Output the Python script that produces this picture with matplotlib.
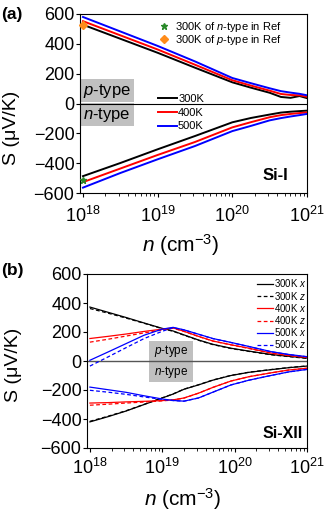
import matplotlib
matplotlib.use('Agg')
import matplotlib.pyplot as plt
from matplotlib.patches import Rectangle
import numpy as np

plt.rcParams['font.family'] = ['Liberation Sans', 'DejaVu Sans']
plt.rcParams['mathtext.fontset'] = 'custom'
plt.rcParams['mathtext.rm'] = 'Liberation Sans'
plt.rcParams['mathtext.it'] = 'Liberation Sans:italic'
plt.rcParams['mathtext.bf'] = 'Liberation Sans:bold'

# ---- panel (a): Si-I, log10(n) grid and Seebeck values (uV/K)
logn_a = [18, 18.5, 19, 19.5, 20, 20.25, 20.5, 20.65, 20.78, 20.9, 21]
p300_a = [528, 434, 340, 240, 142, 106, 72, 44, 38, 50, 36]
p400_a = [552, 457, 362, 260, 156, 120, 86, 64, 57, 55, 45]
p500_a = [580, 483, 386, 282, 171, 136, 102, 83, 73, 65, 55]
n300_a = [-487, -399, -307, -218, -126, -97, -74, -61, -55, -51, -48]
n400_a = [-527, -436, -345, -258, -160, -125, -92, -78, -70, -64, -60]
n500_a = [-564, -466, -374, -285, -185, -150, -113, -98, -87, -78, -70]
ref_n = (1e18, -515)   # 300K n-type in Ref
ref_p = (1e18, 525)    # 300K p-type in Ref

# ---- panel (b): Si-XII, x and z directions
logn_b = [18, 18.25, 18.5, 18.75, 19, 19.15, 19.3, 19.5, 19.7, 19.95, 20.2, 20.5, 20.75, 21]
p300x_b = [372, 336, 300, 262, 225, 207, 180, 145, 115, 88, 68, 45, 32, 20]
p300z_b = [362, 330, 296, 260, 223, 205, 178, 143, 113, 86, 66, 43, 30, 18]
p400x_b = [155, 170, 186, 204, 220, 228, 205, 170, 138, 112, 88, 55, 38, 25]
p400z_b = [130, 150, 172, 194, 214, 226, 204, 169, 137, 111, 86, 54, 37, 24]
p500x_b = [5, 62, 120, 178, 220, 232, 215, 185, 155, 128, 100, 65, 45, 30]
p500z_b = [-35, 28, 92, 155, 205, 230, 214, 184, 154, 127, 99, 64, 44, 29]
n300x_b = [-420, -384, -345, -300, -255, -228, -195, -165, -132, -100, -78, -60, -46, -35]
n300z_b = [-416, -381, -343, -299, -254, -227, -194, -164, -131, -99, -77, -59, -45, -34]
n400x_b = [-290, -287, -282, -278, -273, -268, -255, -222, -182, -138, -108, -82, -62, -50]
n400z_b = [-305, -298, -290, -283, -275, -269, -256, -222, -182, -138, -108, -82, -62, -50]
n500x_b = [-180, -198, -216, -240, -262, -272, -277, -255, -215, -165, -132, -100, -75, -58]
n500z_b = [-202, -215, -230, -248, -265, -273, -277, -255, -215, -165, -132, -100, -75, -58]

temps = ['300K', '400K', '500K']
colors = ['black', '#ff0000', '#0000ff']
yticks = [-600, -400, -200, 0, 200, 400, 600]

W, H = 327, 515
fig = plt.figure(figsize=(W / 100, H / 100), dpi=100)
ax_a = fig.add_axes([80 / W, 1 - 193 / H, 227 / W, 179 / H])
ax_b = fig.add_axes([87 / W, 1 - 448 / H, 220 / W, 174 / H])


def setup(ax, xpad):
    ax.set_xscale('log')
    ax.set_xlim(10 ** 17.96, 1e21)
    ax.set_ylim(-600, 600)
    ax.set_yticks(yticks)
    ax.set_xticks([1e18, 1e19, 1e20, 1e21])
    ax.tick_params(axis='both', which='major', labelsize=13, length=3, width=0.8, pad=1)
    ax.tick_params(axis='x', which='major', pad=xpad)
    ax.tick_params(axis='x', which='minor', length=2, width=0.6)
    for s in ax.spines.values():
        s.set_linewidth(0.8)


def gray_box(ax, x0, y0, w, h, txt, size):
    ax.add_patch(Rectangle((x0, y0), w, h, transform=ax.transAxes,
                           facecolor='#c0c0c0', edgecolor='none', zorder=1))
    ax.text(x0 + w / 2, y0 + h / 2, txt, transform=ax.transAxes, ha='center',
            va='center', fontsize=size, zorder=2)


# ---------------- (a)
setup(ax_a, 6)
xa = 10 ** np.array(logn_a)
gray_box(ax_a, 0, 0.508, 0.238, 0.129, '$p$-type', 12)
gray_box(ax_a, 0, 0.374, 0.238, 0.129, '$n$-type', 12)
ax_a.axhline(0, color='black', lw=0.8, zorder=2)
lines_a = []
for c, p, n in zip(colors, [p300_a, p400_a, p500_a], [n300_a, n400_a, n500_a]):
    l, = ax_a.plot(xa, p, color=c, lw=1.4, zorder=3)
    ax_a.plot(xa, n, color=c, lw=1.4, zorder=3)
    lines_a.append(l)
star, = ax_a.plot(*ref_n, marker='*', color='#2a8a2a', ms=5, ls='none', zorder=4)
diam, = ax_a.plot(*ref_p, marker='D', color='#ff8c1a', ms=4, ls='none', zorder=4, clip_on=False)

leg1 = ax_a.legend(lines_a, temps, loc='upper left', bbox_to_anchor=(0.344, 0.555),
                   frameon=False, fontsize=8, handlelength=1.7, handletextpad=0.1,
                   labelspacing=0.35, borderpad=0, borderaxespad=0)
ax_a.add_artist(leg1)
ax_a.legend([star, diam], ['300K of $n$-type in Ref', '300K of $p$-type in Ref'],
            loc='upper left', bbox_to_anchor=(0.35, 0.965), frameon=False, fontsize=8,
            handlelength=0.8, handletextpad=0.6, labelspacing=-0.08, borderpad=0,
            borderaxespad=0)
ax_a.text(0.86, 0.10, 'Si-I', transform=ax_a.transAxes, ha='center', va='center',
          fontsize=12, fontweight='bold')

# ---------------- (b)
setup(ax_b, 4)
xb = 10 ** np.array(logn_b)
gray_box(ax_b, 0.282, 0.5, 0.2, 0.115, '$p$-type', 8.5)
gray_box(ax_b, 0.282, 0.379, 0.2, 0.115, '$n$-type', 8.5)
ax_b.axhline(0, color='#555555', lw=1.0, zorder=2)
handles_b, labels_b = [], []
series_b = [(p300x_b, p300z_b, n300x_b, n300z_b),
            (p400x_b, p400z_b, n400x_b, n400z_b),
            (p500x_b, p500z_b, n500x_b, n500z_b)]
for c, t, (px, pz, nx, nz) in zip(colors, temps, series_b):
    lx, = ax_b.plot(xb, px, color=c, lw=0.9, zorder=3)
    lz, = ax_b.plot(xb, pz, color=c, lw=0.9, ls=(0, (3, 2)), zorder=3)
    ax_b.plot(xb, nx, color=c, lw=0.9, zorder=3)
    ax_b.plot(xb, nz, color=c, lw=0.9, ls=(0, (3, 2)), zorder=3)
    handles_b += [lx, lz]
    labels_b += [t + ' $x$', t + ' $z$']
ax_b.legend(handles_b, labels_b, loc='upper left', bbox_to_anchor=(0.773, 0.98),
            frameon=False, fontsize=7, handlelength=1.6, handletextpad=0.15,
            labelspacing=0.02, borderpad=0, borderaxespad=0)
ax_b.text(0.889, 0.083, 'Si-XII', transform=ax_b.transAxes, ha='center', va='center',
          fontsize=11.5, fontweight='bold')

# labels
for yc, tag in [(15, '(a)'), (270, '(b)')]:
    fig.text(1 / W, 1 - yc / H, tag, ha='left', va='center', fontsize=12.5, fontweight='bold')
fig.text(12 / W, 1 - 128 / H, 'S (μV/K)', rotation=90, ha='center', va='center', fontsize=14)
fig.text(13 / W, 1 - 365 / H, 'S (μV/K)', rotation=90, ha='center', va='center', fontsize=14)
fig.text(181 / W, 1 - 245 / H, '$n$ (cm$^{-3}$)', ha='center', va='center', fontsize=15)
fig.text(183 / W, 1 - 499 / H, '$n$ (cm$^{-3}$)', ha='center', va='center', fontsize=15)

fig.savefig('out.png', dpi=100)
